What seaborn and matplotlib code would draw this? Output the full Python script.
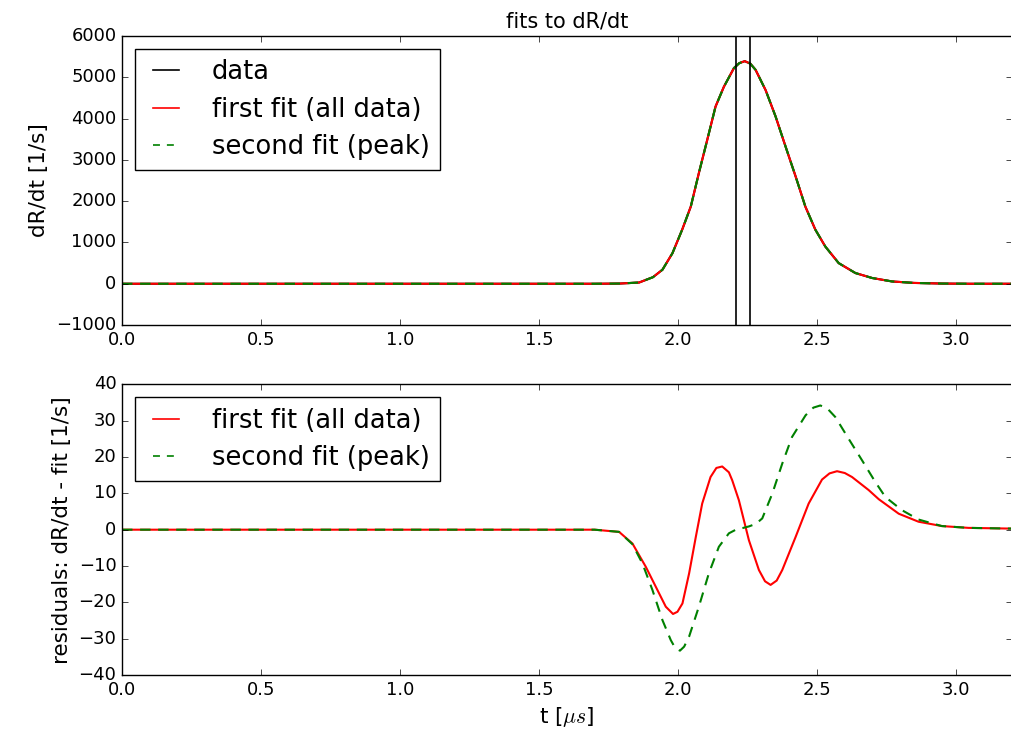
import matplotlib
matplotlib.use("Agg")
import matplotlib.pyplot as plt
import seaborn as sns
import pandas as pd

# ---- data ----
t_top = [0.0, 1.70, 1.79, 1.86, 1.91, 1.944, 1.98, 2.015, 2.046, 2.075, 2.105,
         2.135, 2.165, 2.201, 2.22, 2.24, 2.26, 2.279, 2.315, 2.351, 2.387, 2.423,
         2.458, 2.494, 2.53, 2.578, 2.638, 2.698, 2.77, 2.85, 2.95, 3.05, 3.2]
dRdt_data = [0, 0, 5, 30, 160, 340, 740, 1310, 1870, 2680, 3480,
             4290, 4770, 5220, 5340, 5390, 5330, 5180, 4690, 4050, 3320, 2600,
             1870, 1310, 900, 500, 260, 140, 56, 20, 5, 0, 0]
dRdt_fit1 = dRdt_data  # indistinguishable from data at this scale
dRdt_fit2 = dRdt_data

t_res1 = [0.0, 1.70, 1.788, 1.836, 1.884, 1.92, 1.956, 1.982, 1.998, 2.016, 2.04,
          2.064, 2.087, 2.117, 2.138, 2.159, 2.183, 2.195, 2.219, 2.255, 2.291,
          2.313, 2.333, 2.355, 2.375, 2.423, 2.47, 2.518, 2.545, 2.572, 2.60,
          2.626, 2.686, 2.722, 2.794, 2.865, 2.949, 3.045, 3.2]
res1 = [0, 0, -0.6, -3.8, -10.2, -15.7, -21.2, -23.2, -22.6, -20.3, -12,
        -2, 7.2, 14.5, 17.0, 17.4, 15.8, 13.6, 8.1, -2.9, -11.1,
        -14.2, -15.2, -14.0, -11.1, -2, 7.2, 13.8, 15.5, 16.1, 15.6,
        14.5, 10.9, 8.4, 4.4, 2.2, 1.0, 0.5, 0.3]

t_res2 = [0.0, 1.70, 1.788, 1.836, 1.872, 1.908, 1.944, 1.974, 1.99, 2.007, 2.022,
          2.04, 2.075, 2.111, 2.147, 2.183, 2.213, 2.235, 2.255, 2.28, 2.303,
          2.339, 2.375, 2.41, 2.459, 2.487, 2.512, 2.538, 2.566, 2.614, 2.662,
          2.71, 2.746, 2.805, 2.865, 2.949, 3.045, 3.2]
res2 = [0, 0, -0.6, -4.0, -9.3, -16.6, -24.9, -30.4, -32.6, -33.3, -32.2,
        -29.4, -21.2, -12, -4.7, -1.0, 0.2, 0.5, 0.9, 1.6, 3.1,
        9.9, 18.2, 25.5, 31.5, 33.6, 34.2, 33.3, 31.0, 25.0, 19.1,
        13.1, 9.0, 5.4, 2.8, 1.0, 0.5, 0.3]

window_t = [2.21, 2.26]

labels = ["data", "first fit (all data)", "second fit (peak)"]
x_ticks = [0.0, 0.5, 1.0, 1.5, 2.0, 2.5, 3.0]

# ---- style ----
plt.style.use("classic")
plt.rcParams.update({
    "figure.facecolor": "white",
    "savefig.facecolor": "white",
    "font.size": 13,
    "font.family": ["DejaVu Sans"],
    "mathtext.fontset": "cm",
    "legend.fontsize": 18.5,
    "lines.scale_dashes": False,
})

LW = 1.5
DASH = [7.5, 5.5]

fig = plt.figure(figsize=(10.12, 7.49), dpi=100)
ax1 = fig.add_axes([0.1206, 0.566, 0.879, 0.386])
ax2 = fig.add_axes([0.1206, 0.0988, 0.879, 0.388])

top_df = pd.DataFrame({"t": t_top, "data": dRdt_data,
                       "fit1": dRdt_fit1, "fit2": dRdt_fit2})

sns.lineplot(data=top_df, x="t", y="data", ax=ax1, color="k", lw=LW,
             label=labels[0], sort=False, estimator=None)
sns.lineplot(data=top_df, x="t", y="fit1", ax=ax1, color="r", lw=LW,
             label=labels[1], sort=False, estimator=None)
sns.lineplot(data=top_df, x="t", y="fit2", ax=ax1, color="g", lw=LW,
             ls="--", label=labels[2], sort=False, estimator=None)
for v in window_t:
    ax1.axvline(v, color="k", lw=1.2)

ax1.set_xlim(0, 3.2)
ax1.set_ylim(-1000, 6000)
ax1.set_xticks(x_ticks)
ax1.set_title("fits to dR/dt", fontsize=15, pad=6)
ax1.set_xlabel("")
ax1.set_ylabel("dR/dt [1/s]", fontsize=15.5)

r1 = pd.DataFrame({"t": t_res1, "r": res1})
r2 = pd.DataFrame({"t": t_res2, "r": res2})
sns.lineplot(data=r1, x="t", y="r", ax=ax2, color="r", lw=LW,
             label=labels[1], sort=False, estimator=None)
sns.lineplot(data=r2, x="t", y="r", ax=ax2, color="g", lw=LW, ls="--",
             label=labels[2], sort=False, estimator=None)
ax2.set_xlim(0, 3.2)
ax2.set_ylim(-40, 40)
ax2.set_xticks(x_ticks)
ax2.set_xlabel(r"t [$\mu s$]", fontsize=15.5)
ax2.set_ylabel("residuals: dR/dt - fit [1/s]", fontsize=15.5)

for ax in (ax1, ax2):
    ax.tick_params(labelsize=13)
    for l in ax.get_lines():
        if l.get_linestyle() == "--":
            l.set_dashes(DASH)
    leg = ax.legend(loc="upper left", fancybox=False, frameon=True,
                    handlelength=1.6, handletextpad=1.0, borderaxespad=0.5,
                    labelspacing=0.45)
    leg.get_frame().set_edgecolor("k")
    for hl in leg.get_lines():
        hl.set_linewidth(1.2)
        if hl.get_linestyle() == "--":
            hl.set_dashes([5, 5])

fig.savefig("out.png", dpi=100)
